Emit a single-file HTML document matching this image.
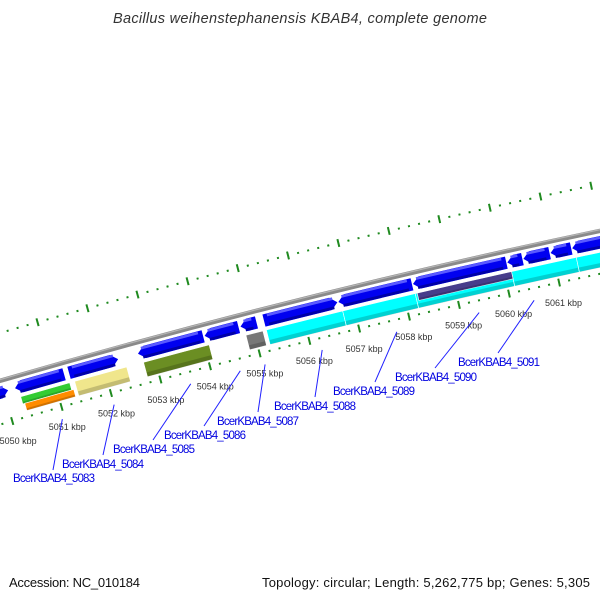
<!DOCTYPE html>
<html><head><meta charset="utf-8"><style>
html,body{margin:0;padding:0;background:#fff;}
svg{display:block;font-family:"Liberation Sans","DejaVu Sans",sans-serif;}
</style></head><body>
<svg id="chart" width="600" height="600" viewBox="0 0 600 600" xmlns="http://www.w3.org/2000/svg">
<rect width="600" height="600" fill="#fff"/>
<text x="300" y="23" text-anchor="middle" font-style="italic" font-size="14.5" fill="#333" textLength="374">Bacillus weihenstephanensis KBAB4, complete genome</text>
<g id="ticks"></g>
<g id="backbone"></g>
<g id="features"></g>
<g id="genes"></g>
<g id="ticklabels"></g>
<g id="genelabels"></g>
<text x="9" y="587" font-size="13" fill="#111" textLength="131">Accession: NC_010184</text>
<text x="590" y="587" text-anchor="end" font-size="13" fill="#111" textLength="328">Topology: circular; Length: 5,262,775 bp; Genes: 5,305</text>
</svg>
<script>
// ---- data (kbp) ----
const geneStarts = [5049.5, 5050.23, 5051.32, 5052.71, 5054.05, 5054.77, 5055.24, 5056.73, 5058.22, 5060.10, 5060.42, 5060.96, 5061.39];
const geneEnds   = [5050.09, 5051.22, 5052.31, 5054.02, 5054.73, 5055.09, 5056.71, 5058.20, 5060.08, 5060.40, 5060.94, 5061.37, 5062.3];
const geneStrands = [1, -1, 1, -1, -1, -1, 1, -1, -1, -1, -1, -1, -1];

const featStarts = [5050.29, 5050.33, 5051.38, 5052.77, 5054.83, 5055.24, 5056.77, 5058.22, 5060.14, 5061.43, 5058.26];
const featEnds   = [5051.28, 5051.32, 5052.43, 5054.09, 5055.17, 5056.77, 5058.22, 5060.14, 5061.43, 5062.3, 5060.14];
const featColors = ["#33cc33", "#ff8c00", "#f0e68c", "#6b8e23", "#777777", "#00ffff", "#00ffff", "#00ffff", "#00ffff", "#00ffff", "#483d8b"];
const featLanes  = ["outer", "inner", "full", "full", "full", "full", "full", "full", "full", "full", "outer"];

const tickLabelKbp = [5050, 5051, 5052, 5053, 5054, 5055, 5056, 5057, 5058, 5059, 5060, 5061];

const labelNames = ["BcerKBAB4_5083","BcerKBAB4_5084","BcerKBAB4_5085","BcerKBAB4_5086","BcerKBAB4_5087","BcerKBAB4_5088","BcerKBAB4_5089","BcerKBAB4_5090","BcerKBAB4_5091"];
const labelKbp   = [5050.95, 5052.0, 5053.55, 5054.55, 5055.05, 5056.2, 5057.7, 5059.35, 5060.45];

// ---- layout (not data) ----
const labelTextX = [13, 62, 113, 164, 217, 274, 333, 395, 458];
const labelTextY = [482, 468, 453, 439, 425, 410, 395, 381, 366];
const labelLineX = [53, 103, 153, 204, 258, 315, 375, 435, 498];
const labelLineY = [470, 455, 440, 426, 412, 397, 382, 368, 353];

const NS = "http://www.w3.org/2000/svg";
const CX = 2291, CY = 8272, RB = 8217;
function ang(k){ return (15.826 - (k - 5051) * 0.3595) * Math.PI / 180; }
function pt(k, r){ const a = ang(k); return [CX - r * Math.sin(a), CY - r * Math.cos(a)]; }
function f(p){ return p[0].toFixed(2) + " " + p[1].toFixed(2); }
function arcTo(k, r, sweep){ return " A " + r + " " + r + " 0 0 " + sweep + " " + f(pt(k, r)); }
function band(k1, k2, r1, r2){
  return "M " + f(pt(k1, r2)) + arcTo(k2, r2, 1) + " L " + f(pt(k2, r1)) + arcTo(k1, r1, 0) + " Z";
}
const HK = 7 / (RB * 0.3595 * Math.PI / 180);
function arrow(k1, k2, rIn, rOut, dir){
  const rm = (rIn + rOut) / 2;
  const h = Math.min(HK, (k2 - k1) * 0.6);
  if (dir > 0) {
    return "M " + f(pt(k1, rOut)) + arcTo(k2 - h, rOut, 1) + " L " + f(pt(k2, rm)) + " L " + f(pt(k2 - h, rIn)) + arcTo(k1, rIn, 0) + " Z";
  }
  return "M " + f(pt(k1 + h, rOut)) + arcTo(k2, rOut, 1) + " L " + f(pt(k2, rIn)) + arcTo(k1 + h, rIn, 0) + " L " + f(pt(k1, rm)) + " Z";
}
function mk(tag, attrs, parent){
  const el = document.createElementNS(NS, tag);
  for (const a in attrs) el.setAttribute(a, attrs[a]);
  parent.appendChild(el);
  return el;
}

// ticks
const gT = document.getElementById("ticks");
[RB - 42, RB + 46].forEach(function(r, ri){
  for (let i = 0; i <= 75; i++) {
    const k = 5048 + i * 0.2;
    const major = i % 5 === 0;
    const a = pt(k, r - (major ? 4 : 1)), b = pt(k, r + (major ? 4 : 1));
    const ln = mk("line", {x1:a[0], y1:a[1], x2:b[0], y2:b[1], stroke:"#1f8a1f", "stroke-width":2}, gT);
    
    
  }
});

// backbone
const gB = document.getElementById("backbone");
const bb = mk("path", {d:"M " + f(pt(5048, RB)) + arcTo(5064, RB, 1), fill:"none", stroke:"#8a8a8a", "stroke-width":4.5}, gB);


const bh = mk("path", {d:"M " + f(pt(5048, RB + 1.2)) + arcTo(5064, RB + 1.2, 1), fill:"none", stroke:"#b5b5b5", "stroke-width":1.2}, gB);



// feature track
const gF = document.getElementById("features");
const FO = RB - 21, FI = RB - 36, FM = RB - 28.5;
for (let i = 0; i < featStarts.length; i++) {
  let r1 = FI, r2 = FO;
  if (featLanes[i] === "outer") { r1 = FM; }
  if (featLanes[i] === "inner") { r2 = FM; }
  const p = mk("path", {d:band(featStarts[i], featEnds[i], r1, r2), fill:featColors[i], stroke:"#ffffff", "stroke-width":0.6}, gF);
  
  
  // darker inner edge shading
  const s = mk("path", {d:band(featStarts[i] + 0.01, featEnds[i] - 0.01, r1, r1 + (r2 - r1) * 0.3), fill:"#000", opacity:0.18}, gF);
  
  
}

// genes
const gG = document.getElementById("genes");
for (let i = 0; i < geneStarts.length; i++) {
  const p = mk("path", {d:arrow(geneStarts[i], geneEnds[i], RB - 17.5, RB - 5, geneStrands[i]), fill:"#0000f0"}, gG);
  
  
  const h = mk("path", {d:band(geneStarts[i] + HK * 0.6, geneEnds[i] - HK * 0.6, RB - 8, RB - 5.3), fill:"#5a5aff"}, gG);
  
  
  const s = mk("path", {d:band(geneStarts[i] + HK * 0.6, geneEnds[i] - HK * 0.6, RB - 17.3, RB - 14.5), fill:"#0000a8"}, gG);
  
  
}

// tick labels
const gL = document.getElementById("ticklabels");
tickLabelKbp.forEach(function(k){
  const p = pt(k, RB - 63);
  const t = mk("text", {x:p[0], y:p[1] + 3, "text-anchor":"middle", "font-size":9, fill:"#333"}, gL);
  t.textContent = k + " kbp";
  
  
});

// gene labels
const gN = document.getElementById("genelabels");
for (let i = 0; i < labelNames.length; i++) {
  const a = pt(labelKbp[i], RB - 54);
  const ln = mk("line", {x1:a[0], y1:a[1], x2:labelLineX[i], y2:labelLineY[i], stroke:"#2020ff", "stroke-width":1}, gN);
  
  
  const t = mk("text", {x:labelTextX[i], y:labelTextY[i], "font-size":11.5, fill:"#0000e0", textLength:82}, gN);
  t.textContent = labelNames[i];
  
  
}
</script>
</body></html>
